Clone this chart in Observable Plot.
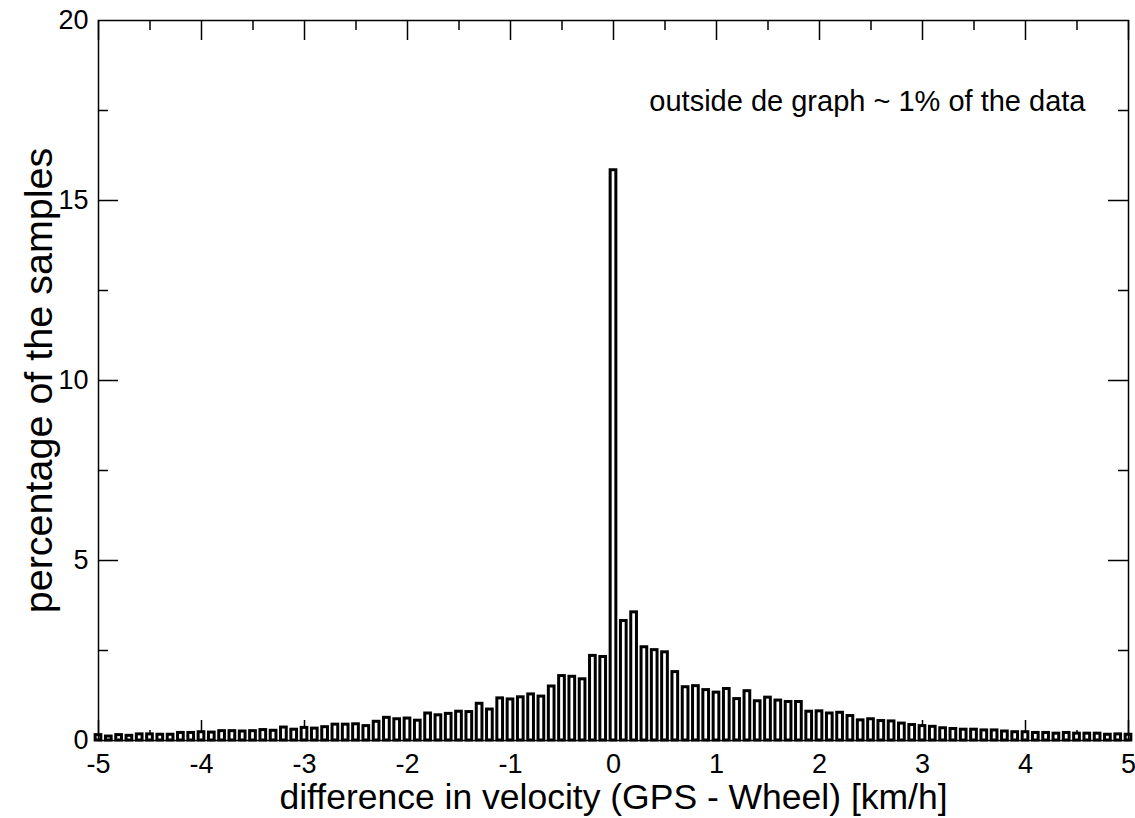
<!DOCTYPE html>
<html>
<head>
<meta charset="utf-8">
<script src="https://cdn.jsdelivr.net/npm/d3@7"></script>
<script src="https://cdn.jsdelivr.net/npm/@observablehq/plot@0.6"></script>
<style>
  html, body { margin: 0; padding: 0; background: #fff; }
  #chart svg { display: block; }
</style>
</head>
<body>
<div id="chart"></div>
<script>
// Bin centres (km/h), from -5.0 to 5.0 in steps of 0.1
const binCenters = d3.range(-50, 51).map(k => k / 10);

// Percentage of samples per bin
const percentages = [
  // -5.0 .. -2.5
  0.15, 0.11, 0.15, 0.13, 0.17, 0.17, 0.16, 0.16, 0.21, 0.21, 0.23, 0.22, 0.26,
  0.26, 0.25, 0.26, 0.29, 0.27, 0.36, 0.30, 0.35, 0.33, 0.37, 0.44, 0.44, 0.45,
  // -2.4 .. -0.1
  0.40, 0.52, 0.63, 0.59, 0.61, 0.55, 0.75, 0.70, 0.74, 0.80, 0.79, 1.02,
  0.86, 1.17, 1.14, 1.20, 1.28, 1.22, 1.50, 1.79, 1.77, 1.70, 2.35, 2.32,
  // 0.0
  15.84,
  // 0.1 .. 2.3
  3.32, 3.56, 2.59, 2.51, 2.45, 1.90, 1.48, 1.51, 1.40, 1.33, 1.43, 1.15,
  1.37, 1.09, 1.19, 1.11, 1.07, 1.07, 0.80, 0.81, 0.75, 0.77, 0.68,
  // 2.4 .. 5.0
  0.56, 0.59, 0.54, 0.53, 0.47, 0.43, 0.40, 0.38, 0.34, 0.32, 0.30, 0.30, 0.28,
  0.28, 0.25, 0.23, 0.23, 0.21, 0.21, 0.19, 0.21, 0.19, 0.19, 0.19, 0.16, 0.17, 0.16
];

const binWidth = 0.1;

// Axis ticks and labels
const xMajorTicks = [-5, -4, -3, -2, -1, 0, 1, 2, 3, 4, 5];
const xMinorTicks = [-4.5, -3.5, -2.5, -1.5, -0.5, 0.5, 1.5, 2.5, 3.5, 4.5];
const yMajorTicks = [0, 5, 10, 15, 20];
const yInnerMajor = [5, 10, 15];
const yMinorTicks = [2.5, 7.5, 12.5, 17.5];

const xLabel = "difference in velocity (GPS - Wheel) [km/h]";
const yLabel = "percentage of the samples";
const note = "outside de graph ~ 1% of the data";

const data = binCenters.map((x, i) => ({x, v: percentages[i]}));

const font = "'Liberation Sans', Arial, Helvetica, sans-serif";
const tickStroke = 1.5;

const chart = Plot.plot({
  width: 1135,
  height: 818,
  marginLeft: 98,
  marginRight: 7,
  marginTop: 20,
  marginBottom: 78,
  style: {fontFamily: font, background: "#fff", color: "#000"},
  x: {domain: [-5, 5]},
  y: {domain: [0, 20]},
  marks: [
    // inward ticks: bottom & top
    Plot.tickX(xMajorTicks, {x: d => d, insetTop: 700, stroke: "black", strokeWidth: tickStroke}),
    Plot.tickX(xMinorTicks, {x: d => d, insetTop: 710, stroke: "black", strokeWidth: tickStroke}),
    Plot.tickX(xMajorTicks, {x: d => d, insetBottom: 700, stroke: "black", strokeWidth: tickStroke}),
    Plot.tickX(xMinorTicks, {x: d => d, insetBottom: 710, stroke: "black", strokeWidth: tickStroke}),
    // inward ticks: left & right
    Plot.tickY(yInnerMajor, {y: d => d, insetRight: 1010, stroke: "black", strokeWidth: tickStroke}),
    Plot.tickY(yMinorTicks, {y: d => d, insetRight: 1020, stroke: "black", strokeWidth: tickStroke}),
    Plot.tickY(yInnerMajor, {y: d => d, insetLeft: 1010, stroke: "black", strokeWidth: tickStroke}),
    Plot.tickY(yMinorTicks, {y: d => d, insetLeft: 1020, stroke: "black", strokeWidth: tickStroke}),
    // histogram bars
    Plot.rectY(data, {
      x1: d => d.x - binWidth / 2,
      x2: d => d.x + binWidth / 2,
      y: "v",
      insetLeft: 2.3,
      insetRight: 2.3,
      fill: "white",
      stroke: "black",
      strokeWidth: 3
    }),
    Plot.frame({stroke: "black", strokeWidth: 1.5}),
    // tick labels
    Plot.axisX(xMajorTicks, {tickSize: 0, tickPadding: 13, fontSize: 27, label: null, tickFormat: d => String(d)}),
    Plot.axisY(yMajorTicks, {tickSize: 0, tickPadding: 10, fontSize: 27, label: null, tickFormat: d => String(d)}),
    // axis titles
    Plot.text([xLabel], {frameAnchor: "bottom", textAnchor: "middle", lineAnchor: "middle", dy: 57, fontSize: 35.5, fill: "black"}),
    Plot.text([yLabel], {frameAnchor: "left", textAnchor: "middle", lineAnchor: "middle", rotate: -90, dx: -59, fontSize: 39.5, fill: "black"}),
    // annotation
    Plot.text([note], {frameAnchor: "top-right", textAnchor: "end", lineAnchor: "middle", dx: -43, dy: 81, fontSize: 29, fill: "black"})
  ]
});

document.getElementById("chart").appendChild(chart);
</script>
</body>
</html>
